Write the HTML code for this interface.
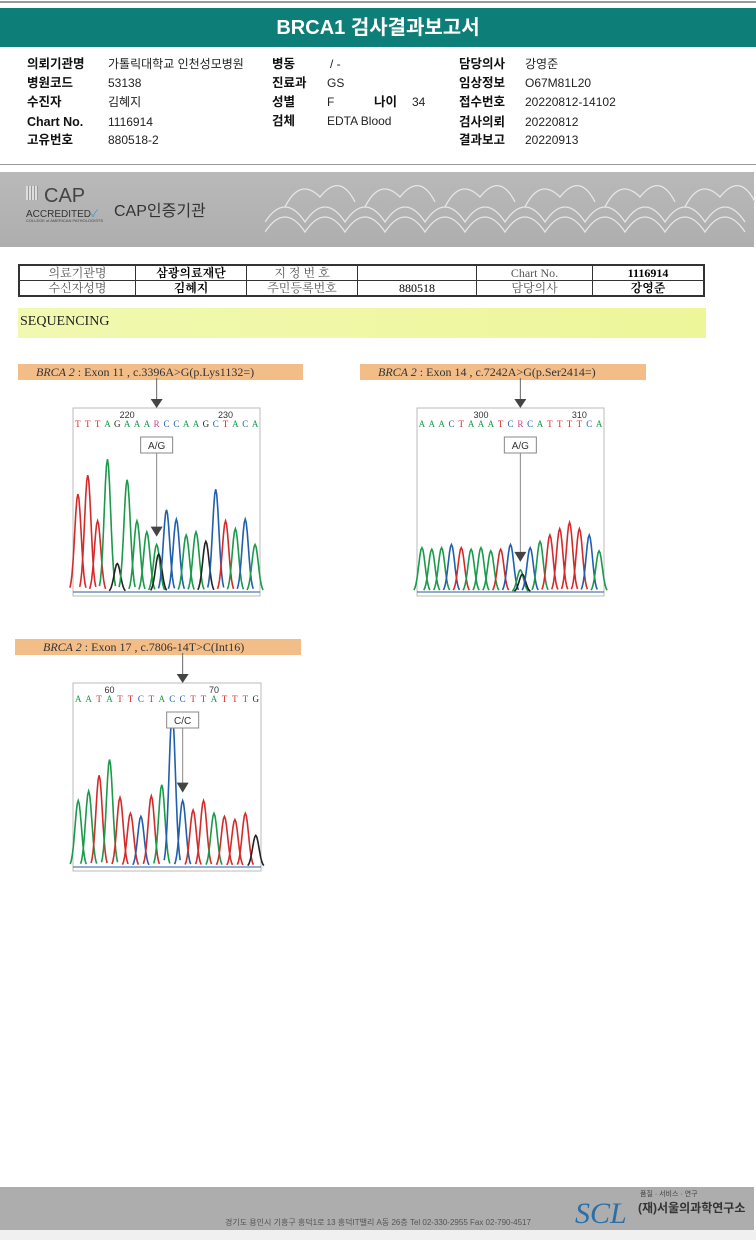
<!DOCTYPE html>
<html><head><meta charset="utf-8"><style>
body{margin:0;width:756px;height:1240px;background:#fff;position:relative;overflow:hidden;font-family:"Liberation Sans","Noto Sans CJK KR",sans-serif}
.a{position:absolute}
.lbl{position:absolute;font-size:12.5px;font-weight:bold;color:#111;line-height:16px;height:16px;white-space:nowrap}
.val{position:absolute;font-size:12px;color:#222;line-height:16px;height:16px;white-space:nowrap}
table{border-collapse:collapse;font-family:"Liberation Serif","Noto Serif CJK SC",serif;font-size:12px}
td{border:1px solid #333;text-align:center;height:14px;padding:0;line-height:14px}
.tag{position:absolute;background:#f3bd88;font-family:"Liberation Serif",serif;font-size:12px;color:#333;height:16px;line-height:16px;padding-left:18px;box-sizing:border-box}
</style></head><body>
<div class="a" style="left:0;top:1px;width:756px;height:2px;background:#999"></div>
<div class="a" style="left:0;top:8px;width:756px;height:39px;background:#0e7f78;color:#fff;font-weight:bold;font-size:20px;text-align:center;line-height:40px">BRCA1 검사결과보고서</div>
<div>
<span class="lbl" style="left:27px;top:56px">의뢰기관명</span><span class="val" style="left:108px;top:56px">가톨릭대학교 인천성모병원</span>
<span class="lbl" style="left:27px;top:75px">병원코드</span><span class="val" style="left:108px;top:75px">53138</span>
<span class="lbl" style="left:27px;top:94px">수진자</span><span class="val" style="left:108px;top:94px">김혜지</span>
<span class="lbl" style="left:27px;top:114px">Chart No.</span><span class="val" style="left:108px;top:114px">1116914</span>
<span class="lbl" style="left:27px;top:132px">고유번호</span><span class="val" style="left:108px;top:132px">880518-2</span>
<span class="lbl" style="left:272px;top:56px">병동</span><span class="val" style="left:330px;top:56px">/ -</span>
<span class="lbl" style="left:272px;top:75px">진료과</span><span class="val" style="left:327px;top:75px">GS</span>
<span class="lbl" style="left:272px;top:94px">성별</span><span class="val" style="left:327px;top:94px">F</span>
<span class="lbl" style="left:374px;top:94px">나이</span><span class="val" style="left:412px;top:94px">34</span>
<span class="lbl" style="left:272px;top:113px">검체</span><span class="val" style="left:327px;top:113px">EDTA Blood</span>
<span class="lbl" style="left:459px;top:56px">담당의사</span><span class="val" style="left:525px;top:56px">강영준</span>
<span class="lbl" style="left:459px;top:75px">임상정보</span><span class="val" style="left:525px;top:75px">O67M81L20</span>
<span class="lbl" style="left:459px;top:94px">접수번호</span><span class="val" style="left:525px;top:94px">20220812-14102</span>
<span class="lbl" style="left:459px;top:114px">검사의뢰</span><span class="val" style="left:525px;top:114px">20220812</span>
<span class="lbl" style="left:459px;top:132px">결과보고</span><span class="val" style="left:525px;top:132px">20220913</span>
</div>
<div class="a" style="left:0;top:164px;width:756px;height:1px;background:#999"></div>
<div class="a" style="left:0;top:172px;width:754px;height:75px;background:linear-gradient(#b9b9b9,#aeaeae)">
<div class="a" style="left:26px;top:14px;width:12px;height:14px;background:repeating-linear-gradient(90deg,#ddd 0 2px,#999 2px 3px)"></div>
<div class="a" style="left:44px;top:13px;font-size:20px;color:#444">CAP</div>
<div class="a" style="left:26px;top:33px;font-size:10px;color:#333">ACCREDITED<span style="color:#3a9ad9">✓</span></div>
<div class="a" style="left:26px;top:46px;font-size:4px;color:#444">COLLEGE of AMERICAN PATHOLOGISTS</div>
<div class="a" style="left:114px;top:25px;font-size:16px;color:#333">CAP인증기관</div>
<svg class="a" style="left:265px;top:5px" width="490" height="68"><g fill="none" stroke="#e6e6e6" stroke-width="1.3">
<path d="M0 45 q20 -30 40 0 q20 -30 40 0 q20 -30 40 0 q20 -30 40 0 q20 -30 40 0 q20 -30 40 0 q20 -30 40 0 q20 -30 40 0 q20 -30 40 0 q20 -30 40 0 q20 -30 40 0 q20 -30 40 0"/>
<path d="M0 55 q20 -30 40 0 q20 -30 40 0 q20 -30 40 0 q20 -30 40 0 q20 -30 40 0 q20 -30 40 0 q20 -30 40 0 q20 -30 40 0 q20 -30 40 0 q20 -30 40 0 q20 -30 40 0 q20 -30 40 0"/>
<path d="M20 30 q15 -30 35 -10 q20 -25 35 5 M100 30 q15 -30 35 -10 q20 -25 35 5 M180 30 q15 -30 35 -10 q20 -25 35 5 M260 30 q15 -30 35 -10 q20 -25 35 5 M340 30 q15 -30 35 -10 q20 -25 35 5 M420 30 q15 -30 35 -10 q20 -25 35 5"/>
</g></svg>
</div>
<table class="a" style="left:18px;top:264px;width:687px;border:2px solid #333">
<tr><td style="width:115px;color:#555">의료기관명</td><td style="width:110px;font-weight:bold">삼광의료재단</td><td style="width:110px;color:#555">지 정 번 호</td><td style="width:118px"></td><td style="width:115px;color:#555">Chart No.</td><td style="font-weight:bold">1116914</td></tr>
<tr><td style="color:#555">수신자성명</td><td style="font-weight:bold">김혜지</td><td style="color:#555">주민등록번호</td><td>880518</td><td style="color:#555">담당의사</td><td style="font-weight:bold">강영준</td></tr>
</table>
<div class="a" style="left:18px;top:308px;width:686px;height:30px;background:linear-gradient(90deg,#f1f8b0,#eef69a);font-family:'Liberation Serif',serif;font-size:14px;line-height:28px;padding-left:2px;color:#222">SEQUENCING</div>
<div class="tag" style="left:18px;top:364px;width:285px"><i>BRCA 2</i> : Exon 11 , c.3396A&gt;G(p.Lys1132=)</div>
<div class="tag" style="left:360px;top:364px;width:286px"><i>BRCA 2</i> : Exon 14 , c.7242A&gt;G(p.Ser2414=)</div>
<div class="tag" style="left:15px;top:639px;width:286px;padding-left:28px"><i>BRCA 2</i> : Exon 17 , c.7806-14T&gt;C(Int16)</div>
<svg id="chroms" class="a" style="left:0;top:0" width="756" height="1000"></svg>
<div class="a" style="left:0;top:1187px;width:754px;height:43px;background:#adadad">
<div class="a" style="left:225px;top:30px;font-size:8px;color:#555;white-space:nowrap">경기도 용인시 기흥구 흥덕1로 13 흥덕IT밸리 A동 26층 Tel 02-330-2955 Fax 02-790-4517</div>
<div class="a" style="left:575px;top:10px;font-size:30px;font-style:italic;font-family:'Liberation Serif',serif;color:#2a6fa8">SCL</div>
<div class="a" style="left:640px;top:2px;font-size:7px;color:#444;white-space:nowrap">품질 · 서비스 · 연구</div>
<div class="a" style="left:638px;top:12px;font-size:12px;font-weight:bold;color:#333;white-space:nowrap">(재)서울의과학연구소</div>
</div>
<div class="a" style="left:0;top:1230px;width:756px;height:10px;background:#f0f0f0"></div>
<script>
const seq1=["T","T","T","A","G","A","A","A","R","C","C","A","A","G","C","T","A","C","A"];
const h1=[0.62,0.74,0.45,0.84,0.18,0.71,0.45,0.38,0.30,0.52,0.46,0.36,0.38,0.32,0.65,0.45,0.40,0.46,0.30];
const seq2=["A","A","A","C","T","A","A","A","T","C","R","C","A","T","T","T","T","C","A"];
const h2=[0.28,0.27,0.28,0.30,0.28,0.27,0.28,0.26,0.27,0.30,0.14,0.28,0.32,0.36,0.40,0.44,0.40,0.36,0.26];
const seq3=["A","A","T","A","T","T","C","T","A","C","C","T","T","A","T","T","T","G"];
const h3=[0.42,0.48,0.58,0.68,0.44,0.34,0.32,0.45,0.52,0.98,0.42,0.36,0.42,0.34,0.32,0.30,0.34,0.2];
const ticks1=["220","230"],ticks2=["300","310"],ticks3=["60","70"];
const col={A:"#1a9a4a",T:"#d42a2a",C:"#1f5fae",G:"#222",R:"#c8408a"};
const svg=document.getElementById('chroms');const NS="http://www.w3.org/2000/svg";
function el(t,a,p){const e=document.createElementNS(NS,t);for(const k in a)e.setAttribute(k,a[k]);(p||svg).appendChild(e);return e;}
function chart(x0,y0,w,h,seq,hs,ticks,tickIdx,mutIdx,label,name){
 const g=el('g',{});
 
 
 el('rect',{x:x0,y:y0,width:w,height:h,fill:'#fff',stroke:'#bbb'},g);
 const step=w/seq.length, xs=i=>x0+step*(i+0.5), base=y0+h-4, ys=v=>base-v*(h-30);
 seq.forEach((b,i)=>{const t=el('text',{x:xs(i),y:y0+19,'font-size':9,'text-anchor':'middle',fill:col[b],'font-family':'Liberation Serif'},g);t.textContent=b;
  });
 ticks.forEach((t,k)=>{const e=el('text',{x:xs(tickIdx[k]),y:y0+10,'font-size':9,'text-anchor':'middle',fill:'#333'},g);e.textContent=t;});
 seq.forEach((b,i)=>{const cols=b==="R"?["#1a9a4a","#222"]:[col[b]];
  cols.forEach((c,j)=>{const hh=hs[i]*(j?0.8:1);let d="";const cx=xs(i)+j*2;
   for(let dx=-8;dx<=8;dx++){const y=base-(base-ys(hh))*Math.exp(-dx*dx/(2*3.2*3.2));d+=(dx==-8?"M":"L")+(cx+dx)+" "+y;}
   const p=el('path',{d:d,fill:'none',stroke:c,'stroke-width':1.6},g);
   });});
 el('line',{x1:x0,y1:base,x2:x0+w,y2:base,stroke:'#2a5aa0','stroke-width':1},g);
 const mx=xs(mutIdx);
 el('line',{x1:mx,y1:y0-30,x2:mx,y2:y0-8,stroke:'#666'},g);
 el('path',{d:`M${mx-6} ${y0-9}L${mx+6} ${y0-9}L${mx} ${y0}Z`,fill:'#444'},g);
 el('rect',{x:mx-16,y:y0+29,width:32,height:16,fill:'#fff',stroke:'#888'},g);
 const lt=el('text',{x:mx,y:y0+41,'font-size':10,'text-anchor':'middle',fill:'#333'},g);lt.textContent=label;
 const ay=ys(hs[mutIdx])-8;
 el('line',{x1:mx,y1:y0+45,x2:mx,y2:ay-8,stroke:'#888'},g);
 el('path',{d:`M${mx-6} ${ay-10}L${mx+6} ${ay-10}L${mx} ${ay}Z`,fill:'#444'},g);
}
chart(73,408,187,188,seq1,h1,ticks1,[5,15],8,"A/G","chromatogram-exon11");
chart(417,408,187,188,seq2,h2,ticks2,[6,16],10,"A/G","chromatogram-exon14");
chart(73,683,188,188,seq3,h3,ticks3,[3,13],10,"C/C","chromatogram-exon17");
</script>
</body></html>
